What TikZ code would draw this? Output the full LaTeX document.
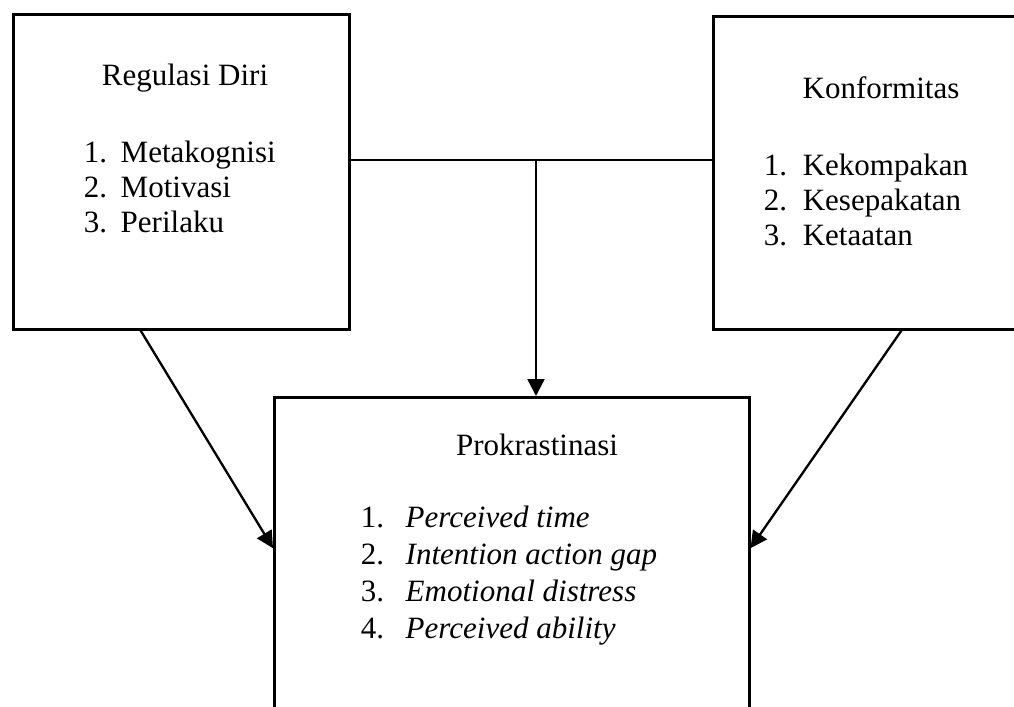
\documentclass[tikz,border=0pt]{standalone}
\usepackage{fontspec}
\setmainfont{Liberation Serif}
\usetikzlibrary{arrows.meta,calc}
\newcommand{\numitem}[3]{\makebox[#1][l]{#2}#3}
\begin{document}
\begin{tikzpicture}[x=0.387pt, y=-0.387pt, line width=0.6pt,
  varbox/.style={draw, rectangle, line width=1pt, inner sep=0pt, anchor=north west},
  boxtext/.style={font=\fontsize{12}{13.5}\selectfont, inner sep=0pt},
  >={Triangle[length=6.5pt, width=6.5pt]}]
  \useasboundingbox (0,0) rectangle (1014,706);
  \node[varbox, minimum width=130pt, minimum height=121.9pt] (regbox) at (12,13) {};
  \node[varbox, minimum width=123.8pt, minimum height=121.1pt] (konbox) at (712,15) {};
  \node[varbox, minimum width=183.8pt, minimum height=140.9pt] (probox) at (273,396) {};
  \node[boxtext, anchor=base] (regtitle) at (185,85) {Regulasi Diri};
  \node[boxtext, anchor=base west, align=left] (reglist) at (83,232) {\numitem{14.3pt}{1.}{Metakognisi}\\ \numitem{14.3pt}{2.}{Motivasi}\\ \numitem{14.3pt}{3.}{Perilaku}};
  \node[boxtext, anchor=base] (kontitle) at (881,98) {Konformitas};
  \node[boxtext, anchor=base west, align=left] (konlist) at (763,245) {\numitem{15.1pt}{1.}{Kekompakan}\\ \numitem{15.1pt}{2.}{Kesepakatan}\\ \numitem{15.1pt}{3.}{Ketaatan}};
  \node[boxtext, anchor=base] (protitle) at (537,455) {Prokrastinasi};
  \node[boxtext, font=\fontsize{12}{14.3}\selectfont, anchor=base west, align=left] (prolist) at (360,638) {\numitem{17.4pt}{1.}{\textit{Perceived time}}\\ \numitem{17.4pt}{2.}{\textit{Intention action gap}}\\ \numitem{17.4pt}{3.}{\textit{Emotional distress}}\\ \numitem{17.4pt}{4.}{\textit{Perceived ability}}};
  \coordinate (split) at (536,160);
  \draw (split -| regbox.east) -- (split -| konbox.west);
  \draw[->, line width=0.9pt] (split) -- (split |- probox.north);
  \draw[->, line width=0.9pt] ($(regbox.south west)!0.38!(regbox.south east)$) -- ($(probox.north west)!0.415!(probox.south west)$);
  \draw[->, line width=0.9pt] ($(konbox.south west)!0.5875!(konbox.south east)$) -- ($(probox.north east)!0.415!(probox.south east)$);
\end{tikzpicture}
\end{document}
